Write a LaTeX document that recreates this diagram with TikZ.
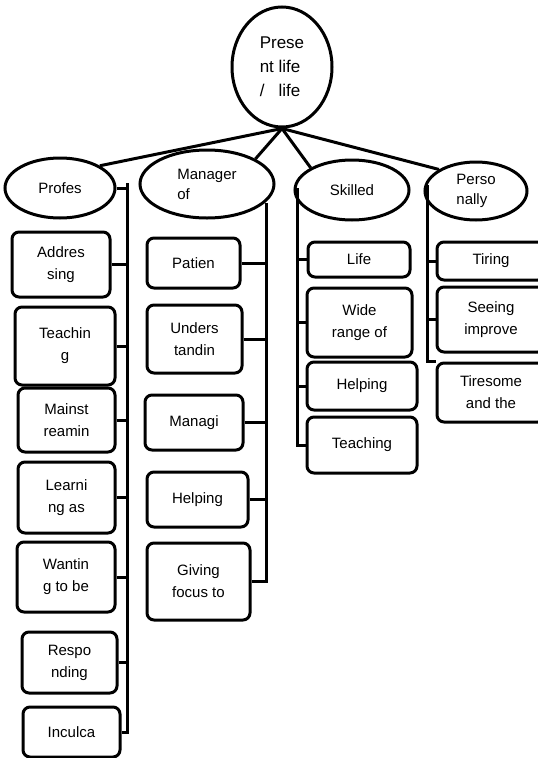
\documentclass[tikz,border=0pt]{standalone}
\usepackage{fontspec}
\setmainfont{Liberation Sans}
\usetikzlibrary{shapes.geometric}

\tikzset{
 oval/.style={ellipse, draw, line width=3pt, inner sep=0pt, align=left, font=\fontsize{15}{20}\selectfont},
 leaf/.style={draw, rounded corners=7pt, line width=3pt, inner sep=0pt, align=center, font=\fontsize{15}{22}\selectfont},
 wire/.style={line width=3pt}
}

\begin{document}
\begin{tikzpicture}[x=1pt, y=-1pt]
\useasboundingbox (0,0) rectangle (538,758);
\clip (0,0) rectangle (538,758);
% top of the tree
\node[oval, minimum width=100, minimum height=120, font=\fontsize{17}{24}\selectfont] (root) at (282,67) {Prese\\nt life\\/\ \ \ life};
\node[oval, minimum width=110, minimum height=60] (prof) at (60,188) {Profes};
\node[oval, minimum width=134, minimum height=68] (mgr) at (207,184) {Manager\\of};
\node[oval, minimum width=114, minimum height=60] (skl) at (352,190) {Skilled};
\node[oval, minimum width=102, minimum height=58] (pers) at (476,191) {Perso\\nally};
\foreach \n/\a in {prof/north east, mgr/north east, skl/north west, pers/north west} {
 \draw[wire] (root.south) -- (\n.\a);
}
% first column
\node[leaf, minimum width=98, minimum height=65] (a1) at (61,264.5) {Addres\\sing};
\node[leaf, minimum width=100, minimum height=78] (a2) at (65,346) {Teachin\\g};
\node[leaf, minimum width=97, minimum height=64] (a3) at (66.5,420) {Mainst\\reamin};
\node[leaf, minimum width=97, minimum height=71] (a4) at (66.5,497.5) {Learni\\ng as};
\node[leaf, minimum width=98, minimum height=70] (a5) at (66,577) {Wantin\\g to be};
\node[leaf, minimum width=95, minimum height=61] (a6) at (69.5,662.5) {Respo\\nding};
\node[leaf, minimum width=97, minimum height=50] (a7) at (71.5,732) {Inculca};
\coordinate (atop) at (127,183);
\draw[wire] (prof.east) -- (prof.east -| atop);
\draw[wire] (atop) |- (a7.east);
\foreach \i in {1,...,6} {
 \draw[wire] (a\i.east) -- (a\i.east -| atop);
}
% second column
\node[leaf, minimum width=93, minimum height=50] (m1) at (193.5,263) {Patien};
\node[leaf, minimum width=95, minimum height=68] (m2) at (194.5,339) {Unders\\tandin};
\node[leaf, minimum width=98, minimum height=55] (m3) at (194,422.5) {Managi};
\node[leaf, minimum width=101, minimum height=55] (m4) at (197.5,499.5) {Helping};
\node[leaf, minimum width=103, minimum height=77] (m5) at (198.5,581.5) {Giving\\focus to};
\coordinate (mtop) at (266,203);
\draw[wire] (mtop) |- (m5.east);
\foreach \i in {1,...,4} {
 \draw[wire] (m\i.east) -- (m\i.east -| mtop);
}
% third column
\node[leaf, minimum width=102, minimum height=35] (s1) at (359,259.5) {Life};
\node[leaf, minimum width=105, minimum height=69] (s2) at (359.5,322.5) {Wide\\range of};
\node[leaf, minimum width=110, minimum height=48] (s3) at (362,386) {Helping};
\node[leaf, minimum width=110, minimum height=56] (s4) at (362,445) {Teaching};
\coordinate (stop) at (297,188);
\draw[wire] (stop) |- (s4.west);
\foreach \i in {1,...,3} {
 \draw[wire] (s\i.west) -- (s\i.west -| stop);
}
% fourth column
\node[leaf, minimum width=108, minimum height=38] (p1) at (491,261) {Tiring};
\node[leaf, minimum width=108, minimum height=65] (p2) at (491,319.5) {Seeing\\improve};
\node[leaf, minimum width=108, minimum height=59] (p3) at (491,392.5) {Tiresome\\and the};
\coordinate (ptop) at (427,185);
\draw[wire] (ptop) |- (p3.north west);
\foreach \i in {1,2} {
 \draw[wire] (p\i.west) -- (p\i.west -| ptop);
}
\end{tikzpicture}
\end{document}
